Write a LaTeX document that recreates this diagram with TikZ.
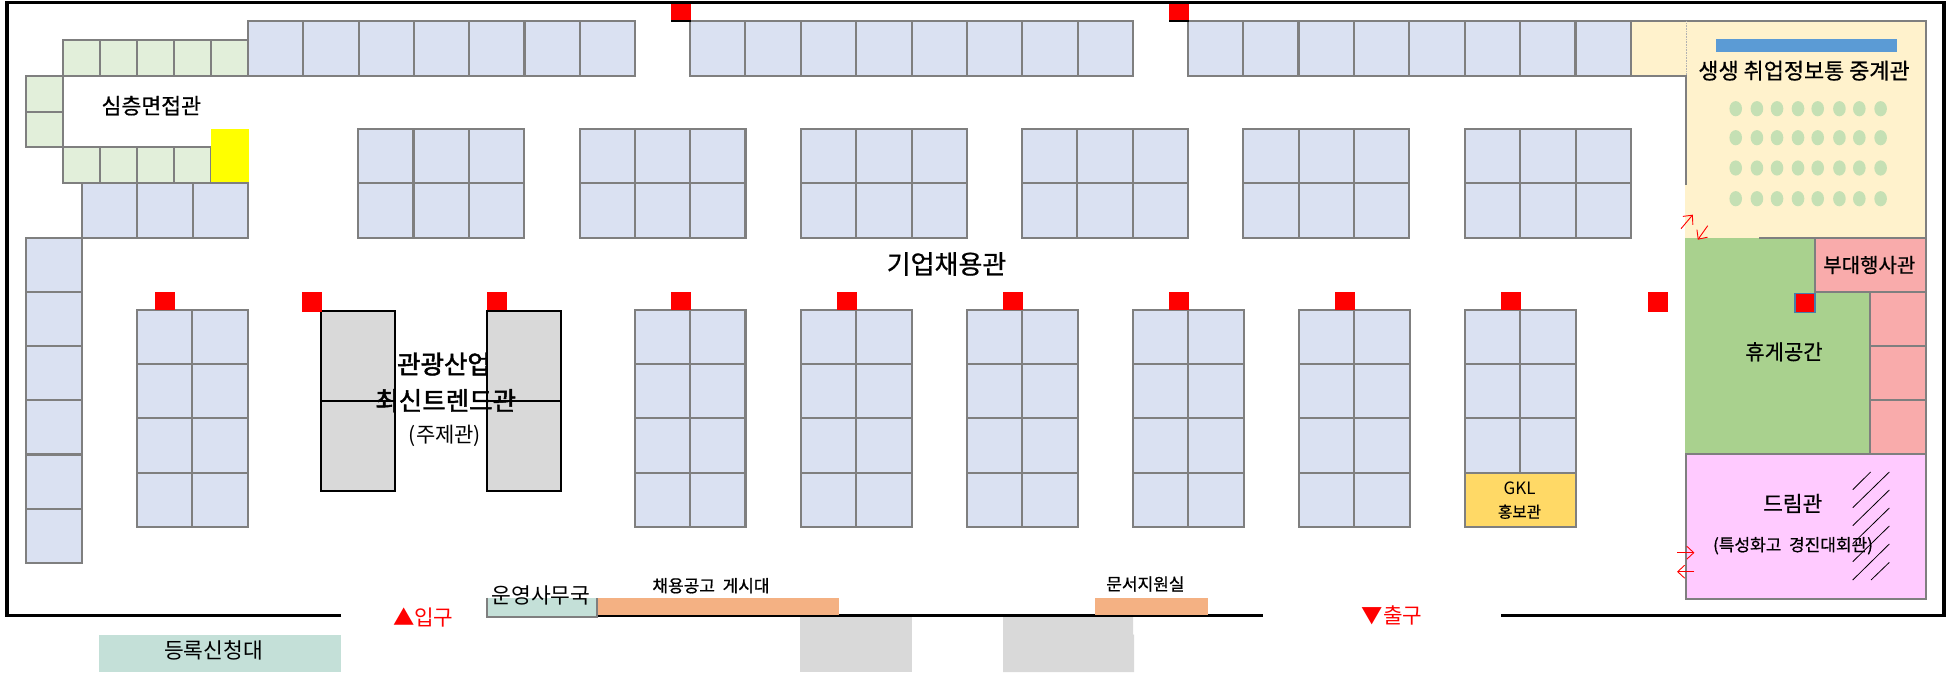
\documentclass[tikz,border=0pt]{standalone}
\usepackage{fontspec}
\setmainfont{Noto Sans CJK KR}
\newfontfamily\medf[FakeBold=0.7]{Noto Sans CJK KR}
\newfontfamily\heavf[FakeBold=1.8]{Noto Sans CJK KR}
\usetikzlibrary{arrows.meta}
\definecolor{booth}{HTML}{DAE1F2}
\definecolor{edge}{HTML}{7F7F7F}
\definecolor{interview}{HTML}{E2EFDA}
\definecolor{beige}{HTML}{FFF2CC}
\definecolor{dot}{HTML}{C5E0B4}
\definecolor{lounge}{HTML}{A9D18E}
\definecolor{rose}{HTML}{F9ABAB}
\definecolor{dream}{HTML}{FFCAFF}
\definecolor{mint}{HTML}{C4E0D8}
\definecolor{peach}{HTML}{F4B183}
\definecolor{ggray}{HTML}{D9D9D9}
\definecolor{gkl}{HTML}{FFD966}
\definecolor{barblue}{HTML}{5B9BD5}
\definecolor{pureyellow}{RGB}{255,255,0}
\definecolor{purered}{RGB}{255,0,0}
\newcommand{\fs}[1]{\fontsize{#1}{#1}\selectfont}
\newcommand{\cellgrid}[7]{%
  \foreach \i in {1,...,#3}{\foreach \j in {1,...,#4}{%
    \draw[#7] ({#1+(\i-1)*#5},{#2+(\j-1)*#6}) rectangle ({#1+\i*#5},{#2+\j*#6});
  }}}
\tikzset{
  x=1pt,y=-1pt,
  boothcell/.style={draw=edge,fill=booth,line width=2.1pt},
  greencell/.style={draw=edge,fill=interview,line width=2.1pt},
  rosecell/.style={draw=edge,fill=rose,line width=2.1pt},
  greycell/.style={draw=black,fill=ggray,line width=2.1pt},
  wall/.style={draw=black,line width=3.2pt},
  edgeline/.style={draw=edge,line width=2.1pt},
  redmark/.style={fill=purered},
  seat/.style={fill=dot},
  hatchline/.style={draw=black,line width=0.8pt},
  redarrow/.style={draw=purered,line width=0.9pt,-{Straight Barb[length=7pt,width=13pt]}},
  label/.style={inner sep=0pt,align=center,text=black},
}
\begin{document}
\begin{tikzpicture}[shift={(0,0.7)}]
\useasboundingbox (0,-0.7) rectangle (1953,671.3);
\fill[white] (0,-0.7) rectangle (1953,671.3);
% lower grey blocks and outer wall
\fill[ggray] (800,616) rectangle (912.4,671.3);
\fill[ggray] (1003,616) rectangle (1133,634) (1003,634) rectangle (1134,671.3);
\fill[mint] (99,634) rectangle (341.2,671.3);
\draw[wall] (341,615) -- (7,615) -- (7,2) -- (1944,2) -- (1944,615) -- (1501,615);
\draw[wall] (597,615) -- (1263,615);
% top booths
\cellgrid{248}{20.7}{7}{1}{55.3}{54.3}{boothcell}
\cellgrid{690}{20.7}{8}{1}{55.4}{54.3}{boothcell}
\cellgrid{1187.7}{20.7}{8}{1}{55.4}{54.3}{boothcell}
% interview hall
\cellgrid{63}{39}{5}{1}{37}{36}{greencell}
\cellgrid{26}{75}{1}{2}{37}{35.85}{greencell}
\cellgrid{63}{146.7}{4}{1}{37}{36}{greencell}
\fill[pureyellow] (210.6,128) rectangle (249,182);
% left booths
\cellgrid{82}{182.7}{3}{1}{55.3}{54.3}{boothcell}
\cellgrid{26}{237}{1}{6}{56}{54.2}{boothcell}
% upper blocks
\foreach \xx in {358.2,579.6,801,1022,1243.4,1465}{
  \cellgrid{\xx}{128}{3}{2}{55.3}{54.5}{boothcell}
}
% lower blocks
\foreach \xx in {136.8,634.7,800.9,967,1133,1299,1465}{
  \cellgrid{\xx}{309.3}{2}{4}{55.4}{54.2}{boothcell}
}
\draw[boothcell,fill=gkl] (1465,472) rectangle (1575.8,526);
% theme hall
\cellgrid{321.3}{310}{1}{2}{73.7}{90}{greycell}
\cellgrid{486.7}{310}{1}{2}{74.7}{90}{greycell}
% right: relay hall
\fill[beige] (1631,20.7) rectangle (1926,75);
\fill[beige] (1685,75) rectangle (1926,237);
\draw[edgeline] (1631,20.7) -- (1926,20.7) -- (1926,237) -- (1759,237);
\draw[edgeline] (1631,20.7) -- (1631,75) -- (1686,75) -- (1686,184);
\draw[edge!60,line width=0.6pt,densely dotted] (1686,20.7) -- (1686,75);
\fill[barblue] (1716,38) rectangle (1897,51);
\foreach \yy in {108,137,167.3,198}{
  \foreach \xx in {1735.7,1756.9,1777,1798,1817.7,1839.4,1859.3,1880.6}{
    \fill[seat] (\xx,\yy) ellipse [x radius=6.3,y radius=7.6];
  }
}
% lounge and event hall
\fill[lounge] (1685,237) rectangle (1926,453.7);
\draw[rosecell] (1815,237) rectangle (1926,291.7);
\cellgrid{1870}{291.7}{1}{3}{56}{54}{rosecell}
\draw[edgeline] (1759,237) -- (1926,237);
\draw[draw=barblue!80!black,fill=purered,line width=1.2pt] (1795,292.5) rectangle (1815,312);
% dream hall
\draw[edgeline,fill=dream] (1685.7,453.7) rectangle (1926,598);
\draw[hatchline] (1852.7,489) -- (1870.6,471.3);
\draw[hatchline] (1852.7,507) -- (1889.3,471.3);
\draw[hatchline] (1852.7,525) -- (1889.3,489.3);
\draw[hatchline] (1852.7,543) -- (1889.3,507.3);
\draw[hatchline] (1852.7,561) -- (1889.3,525.3);
\draw[hatchline] (1852.7,579.3) -- (1889.3,543.3);
\draw[hatchline] (1871,579.3) -- (1889.3,561.7);
% red marks
\foreach \xx in {155,487,671,837,1003,1169,1335,1501}{
  \fill[redmark] (\xx,291) rectangle +(20,18.3);
}
\fill[redmark] (302.2,291) rectangle +(20,20);
\fill[redmark] (1648,291) rectangle +(20,20);
\foreach \xx in {671,1169}{
  \fill[black] (\xx,18) rectangle +(20,3);
  \fill[redmark] (\xx,3) rectangle +(20,16);
}
% counters
\fill[peach] (597.4,597) rectangle (839,614);
\fill[peach] (1094.9,597) rectangle (1208,614);
\fill[mint] (486.3,597) rectangle (597.4,615);
\draw[edgeline] (487,597) -- (487,616) -- (597.4,616) -- (597.4,597);
% red arrows
\coordinate (a1) at (1681,228); \coordinate (a2) at (1692.8,214);
\coordinate (a3) at (1707.7,225); \coordinate (a4) at (1697.8,239);
\coordinate (a5) at (1677,552); \coordinate (a6) at (1694.4,552);
\coordinate (a7) at (1694.4,571); \coordinate (a8) at (1677,571);
\draw[redarrow] (a1) -- (a2);
\draw[redarrow] (a3) -- (a4);
\draw[redarrow] (a5) -- (a6);
\draw[redarrow] (a7) -- (a8);
% labels
\node[label,font=\medf\fs{21.6}] (t1) at (151.3,105) {심층면접관};
\node[label,font=\medf\fs{26}] (t2) at (946.5,263.3) {기업채용관};
\node[label,font=\heavf\fs{25.5}] (t3) at (444,363.3) {관광산업};
\node[label,font=\heavf\fs{25.5}] (t4) at (445.7,400) {최신트렌드관};
\node[label,font=\fs{21}] (t5) at (445,434.7) {(주제관)};
\node[label,font=\fs{21.5}] (t6) at (541,595) {운영사무국};
\node[label,font=\medf\fs{17}] (t7) at (711,585) {채용공고\ \ 게시대};
\node[label,font=\medf\fs{17}] (t8) at (1145.4,583.3) {문서지원실};
\node[label,font=\fs{21.5}] (t9) at (213.5,649.3) {등록신청대};
\node[label,font=\fs{21.3},text=purered] (t10) at (423.3,617) {▲입구};
\node[label,font=\fs{21.3},text=purered] (t11) at (1392,614.7) {▼출구};
\node[label,font=\fs{17}] (t12) at (1519.5,487.3) {GKL};
\node[label,font=\medf\fs{15.6}] (t13) at (1519.5,511) {홍보관};
\node[label,font=\medf\fs{21.9}] (t14) at (1804,70) {생생 취업정보통 중계관};
\node[label,font=\medf\fs{20}] (t15) at (1869.3,264.3) {부대행사관};
\node[label,font=\medf\fs{21}] (t16) at (1784,351) {휴게공간};
\node[label,font=\medf\fs{21.4}] (t17) at (1792.7,502.7) {드림관};
\node[label,font=\medf\fs{17}] (t18) at (1793,545) {(특성화고\ \ 경진대회관)};
\end{tikzpicture}
\end{document}
